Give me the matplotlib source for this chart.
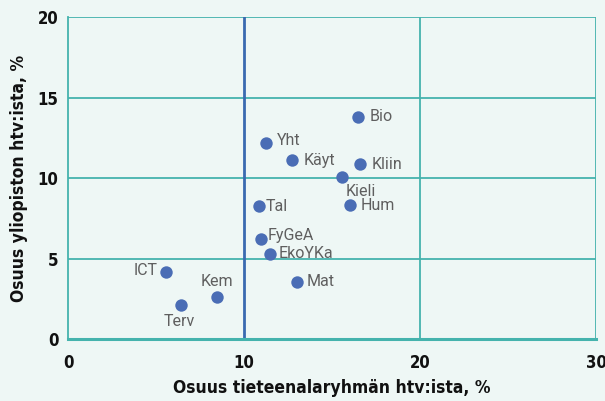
import matplotlib
matplotlib.use("Agg")
import matplotlib.pyplot as plt
from matplotlib import font_manager

labels = ["Bio", "Yht", "Käyt", "Kliin", "Kieli", "Tal", "Hum", "FyGeA", "EkoYKa", "ICT", "Kem", "Terv", "Mat"]
x_vals = [16.5, 11.25, 12.75, 16.6, 15.55, 10.85, 16.0, 10.95, 11.5, 5.55, 8.45, 6.4, 13.0]
y_vals = [13.8, 12.15, 11.1, 10.9, 10.05, 8.25, 8.3, 6.2, 5.25, 4.15, 2.6, 2.1, 3.55]
offsets = {
    "Bio": (8, 0, "left", "center"),
    "Yht": (8, 2, "left", "center"),
    "Käyt": (8, 0, "left", "center"),
    "Kliin": (8, -1, "left", "center"),
    "Kieli": (3, -5, "left", "top"),
    "Tal": (5, 0, "left", "center"),
    "Hum": (8, 0, "left", "center"),
    "FyGeA": (5, 3, "left", "center"),
    "EkoYKa": (6, 1, "left", "center"),
    "ICT": (-6, 1, "right", "center"),
    "Kem": (0, 6, "center", "bottom"),
    "Terv": (-1, -6, "center", "top"),
    "Mat": (7, 0, "left", "center"),
}

names = {f.name for f in font_manager.fontManager.ttflist}
bold_kw = dict(family="DejaVu Sans", stretch="condensed", fontweight="bold")
if "Liberation Sans Narrow" in names:
    bold_kw = dict(family="Liberation Sans Narrow", fontweight="bold")

bg = "#EEF7F5"
teal = "#45B3AD"
blue = "#4A6DB5"

fig = plt.figure(figsize=(6.05, 4.01), dpi=100, facecolor=bg)
ax = fig.add_axes([0.1124, 0.1546, 0.8727, 0.803])
ax.set_facecolor(bg)
ax.set_xlim(0, 30)
ax.set_ylim(0, 20)

for y in [5, 10, 15, 20]:
    ax.axhline(y, color=teal, lw=1.3, zorder=1)
ax.axvline(20, color=teal, lw=1.3, zorder=1)
ax.axvline(30, color=teal, lw=1.3, zorder=1)
ax.axvline(10, color="#3A6AB0", lw=2.0, zorder=1)

for s in ["top", "right"]:
    ax.spines[s].set_visible(False)
ax.spines["left"].set_color(teal)
ax.spines["left"].set_linewidth(1.3)
ax.spines["bottom"].set_color(teal)
ax.spines["bottom"].set_linewidth(2.2)

ax.scatter(x_vals, y_vals, s=80, color=blue, zorder=3, linewidths=0)
for lab, x, y in zip(labels, x_vals, y_vals):
    dx, dy, ha, va = offsets[lab]
    ax.annotate(lab, (x, y), xytext=(dx, dy), textcoords="offset points",
                ha=ha, va=va, fontsize=11.5, color="#5f5f5f", family="Roboto")

ax.set_xticks([0, 10, 20, 30])
ax.set_yticks([0, 5, 10, 15, 20])
ax.tick_params(length=0, labelsize=12, labelcolor="#111111")
for t in ax.get_xticklabels() + ax.get_yticklabels():
    t.set(**bold_kw)
ax.tick_params(axis="y", pad=7)
ax.tick_params(axis="x", pad=11)

ax.set_xlabel("Osuus tieteenalaryhmän htv:ista, %", fontsize=12.5, labelpad=5,
              color="#111111", **bold_kw)
ax.set_ylabel("Osuus yliopiston htv:ista, %", fontsize=12.5, labelpad=7,
              color="#111111", **bold_kw)

fig.savefig("out.png", dpi=100, facecolor=bg)
